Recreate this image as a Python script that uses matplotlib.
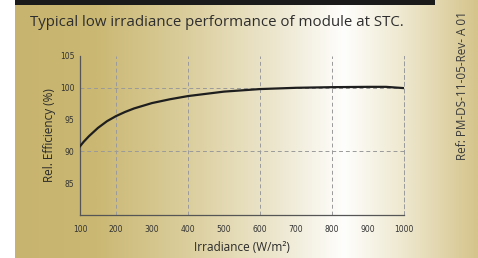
import numpy as np
import matplotlib
matplotlib.use("Agg")
import matplotlib.pyplot as plt
from matplotlib.colors import LinearSegmentedColormap

# curve
irradiance = [100, 110, 125, 150, 175, 200, 225, 250, 300, 350, 400, 500, 600, 700, 800, 900, 950, 1000]
rel_eff = [90.8, 91.5, 92.4, 93.7, 94.75, 95.55, 96.2, 96.75, 97.6, 98.2, 98.7, 99.4, 99.8, 100.0, 100.1, 100.15, 100.15, 99.95]

x_ticks = [100, 200, 300, 400, 500, 600, 700, 800, 900, 1000]
y_ticks = [85, 90, 95, 100, 105]
x_grid = [200, 400, 600, 800]
y_grid = [90, 100]

title = "Typical low irradiance performance of module at STC."
ref_text = "Ref: PM-DS-11-05-Rev- A 01"

W, H = 478, 258
fig = plt.figure(figsize=(W / 100, H / 100), dpi=100)

# gold -> white -> tan background
bg = fig.add_axes([0, 0, 1, 1], zorder=0)
bg.set_axis_off()
stops = [(0.0, "#c7b36d"), (0.2, "#cab873"), (0.4, "#dccf9f"),
         (0.58, "#ede7cf"), (0.72, "#fefefc"), (0.84, "#efe9d1"), (1.0, "#d5c48b")]
cmap = LinearSegmentedColormap.from_list("gold", stops)
grad = np.linspace(0, 1, 512).reshape(1, -1)
bg.imshow(grad, cmap=cmap, aspect="auto", extent=[0, W, 0, H])
bg.add_patch(plt.Rectangle((0, 0), 15, H, color="white", lw=0))
bg.add_patch(plt.Rectangle((15, H - 5), 420, 5, color="#1a1a1a", lw=0))
bg.set_xlim(0, W)
bg.set_ylim(0, H)

fig.text(30 / W, 1 - 22 / H, title, fontsize=10.8, color="#2e2e2e",
         family="Open Sans", va="center", ha="left")
fig.text(462 / W, 1 - 160 / H, ref_text, fontsize=8.5, color="#3a3a3a",
         family="Open Sans", rotation=90, va="bottom", ha="center")

ax = fig.add_axes([80 / W, 1 - 215 / H, 324 / W, 159 / H], zorder=1)
ax.patch.set_alpha(0)
ax.plot(irradiance, rel_eff, color="#1e1e1e", lw=1.6, zorder=3)

for xv in x_grid:
    ax.axvline(xv, color="#9a9a9a", lw=0.7, ls=(0, (4, 3)), zorder=1)
for yv in y_grid:
    ax.axhline(yv, color="#9a9a9a", lw=0.7, ls=(0, (4, 3)), zorder=1)

ax.set_xlim(100, 1000)
ax.set_ylim(80, 105)
ax.set_xticks(x_ticks)
ax.set_yticks(y_ticks)
ax.tick_params(length=0, labelsize=5.5, labelcolor="#333333")
ax.tick_params(axis="x", pad=7)
ax.tick_params(axis="y", pad=4)

ax.spines["top"].set_visible(False)
ax.spines["right"].set_color("#9a9a9a")
ax.spines["right"].set_linewidth(0.7)
ax.spines["right"].set_linestyle((0, (4, 3)))
for s in ["left", "bottom"]:
    ax.spines[s].set_color("#555555")
    ax.spines[s].set_linewidth(0.9)

ax.set_xlabel("Irradiance (W/m²)", fontsize=8.5, color="#2a2a2a", family="Open Sans", labelpad=5)
ax.set_ylabel("Rel. Efficiency (%)", fontsize=8.5, color="#2a2a2a", family="Open Sans", labelpad=3)

fig.savefig("out.png", dpi=100)
